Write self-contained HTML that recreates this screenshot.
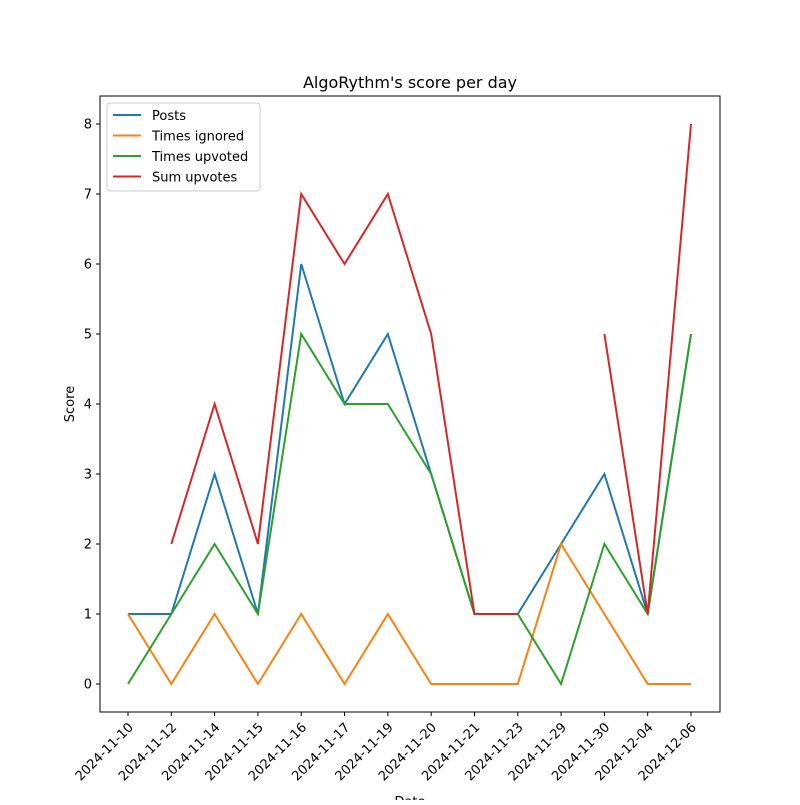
<!DOCTYPE html>
<html><head><meta charset="utf-8"><style>body{margin:0;background:#fff}svg{font-family:"DejaVu Sans","Liberation Sans",sans-serif}</style></head>
<body>
<svg id="c" width="800" height="800"></svg>
<script>
const categories=["2024-11-10","2024-11-12","2024-11-14","2024-11-15","2024-11-16","2024-11-17","2024-11-19","2024-11-20","2024-11-21","2024-11-23","2024-11-29","2024-11-30","2024-12-04","2024-12-06"];
const posts=[1,1,3,1,6,4,5,3,1,1,2,3,1,5];
const ignored=[1,0,1,0,1,0,1,0,0,0,2,1,0,0];
const upvoted=[0,1,2,1,5,4,4,3,1,1,0,2,1,5];
const sumUpvotes=[null,2,4,2,7,6,7,5,1,1,null,5,1,8];
const yTicks=[0,1,2,3,4,5,6,7,8];
const seriesNames=["Posts","Times ignored","Times upvoted","Sum upvotes"];
const colors=["#1f77b4","#ff7f0e","#2ca02c","#d62728"];
const NS="http://www.w3.org/2000/svg";
const svg=document.getElementById('c');
const L=100,R=720,T=96,B=712;
const x=i=>128+i*(691-128)/(categories.length-1);
const y=v=>684-v*70;
function mk(t,a,p){const e=document.createElementNS(NS,t);for(const k in a)e.setAttribute(k,a[k]);(p||svg).appendChild(e);return e;}
let e=mk('rect',{x:L,y:T,width:R-L,height:B-T,fill:'none',stroke:'#000','stroke-width':1});


e=mk('text',{x:410,y:88,'text-anchor':'middle','font-size':16});e.textContent="AlgoRythm's score per day";


yTicks.forEach(v=>{mk('line',{x1:L-4,x2:L,y1:y(v),y2:y(v),stroke:'#000'});
const t=mk('text',{x:L-8,y:y(v)+4.5,'text-anchor':'end','font-size':13});t.textContent=v;

});
categories.forEach((c,i)=>{mk('line',{x1:x(i),x2:x(i),y1:B,y2:B+4,stroke:'#000'});
const ax=x(i)+6, ay=B+16;
const t=mk('text',{x:ax,y:ay,'text-anchor':'end','font-size':13,transform:`rotate(-45 ${ax} ${ay})`});t.textContent=c;

});
e=mk('text',{x:74,y:404,'text-anchor':'middle','font-size':13,transform:'rotate(-90 74 404)'});e.textContent='Score';


e=mk('text',{x:410,y:806,'text-anchor':'middle','font-size':13});e.textContent='Date';


[posts,ignored,upvoted,sumUpvotes].forEach((s,k)=>{let d='',pen=false;
s.forEach((v,i)=>{if(v===null){pen=false;return;}d+=(pen?'L':'M')+x(i)+' '+y(v)+' ';pen=true;});
const p=mk('path',{d:d,fill:'none',stroke:colors[k],'stroke-width':2});

});
const lg=mk('g',{});


mk('rect',{x:107,y:103,width:153,height:88,rx:3,fill:'#fff',stroke:'#ccc'},lg);
seriesNames.forEach((n,k)=>{const yy=115+k*20.5;
mk('line',{x1:113,x2:141,y1:yy,y2:yy,stroke:colors[k],'stroke-width':2},lg);
const t=mk('text',{x:152,y:yy+5,'font-size':13},lg);t.textContent=n;

});
</script>
</body></html>
